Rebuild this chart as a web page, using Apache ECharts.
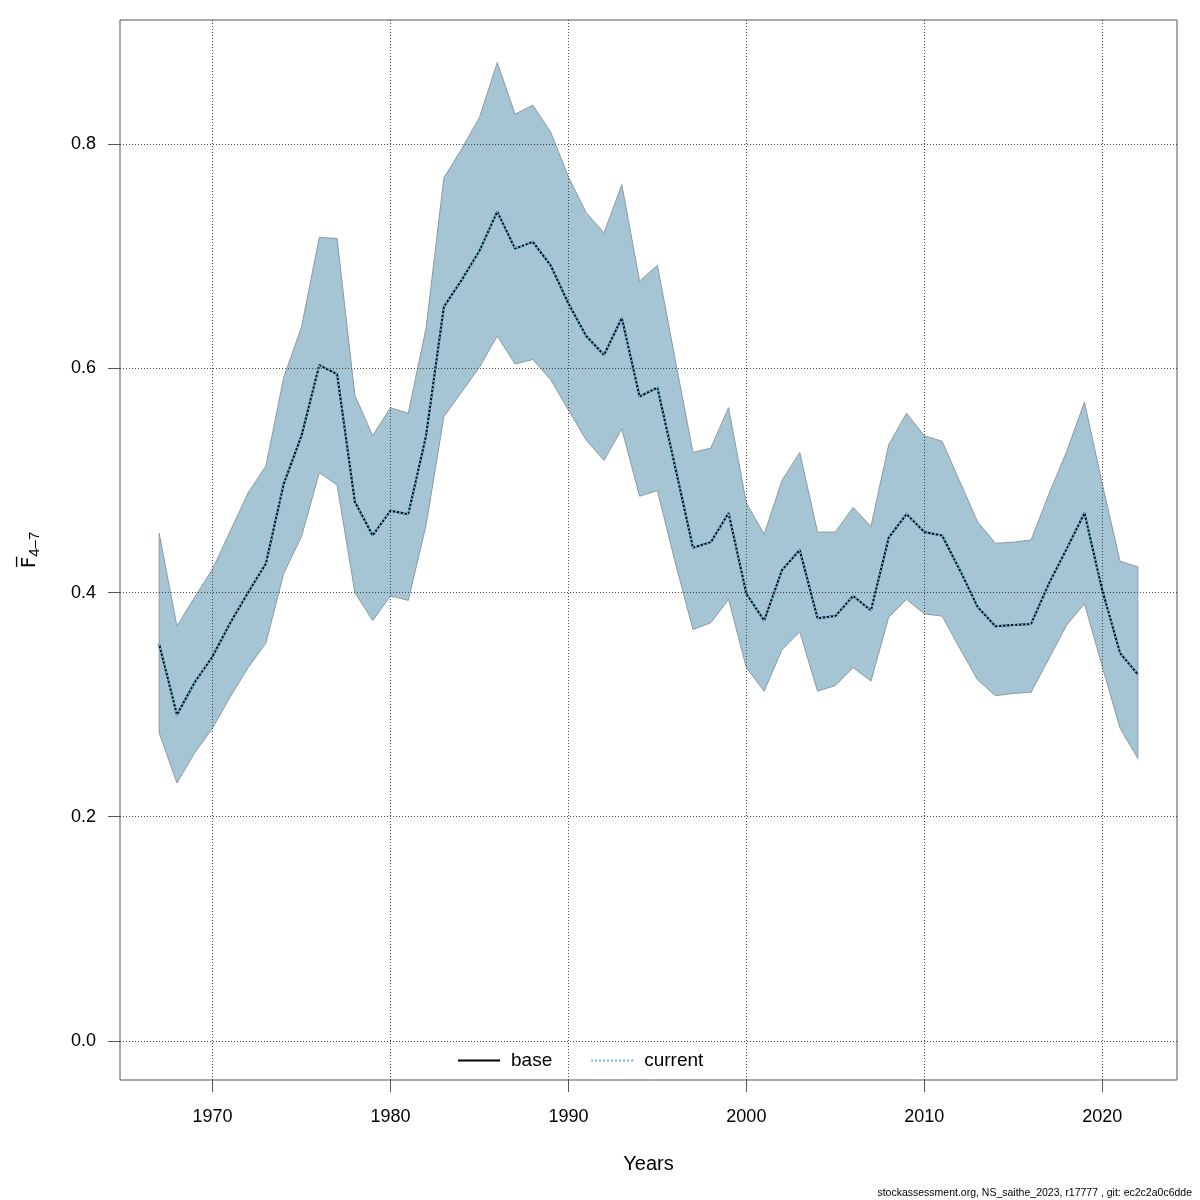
<!DOCTYPE html>
<html>
<head>
<meta charset="utf-8">
<title>F bar 4-7</title>
<script src="https://cdn.jsdelivr.net/npm/echarts@6/dist/echarts.min.js"></script>
<style>
  html, body { margin: 0; padding: 0; background: #fff; }
  #main { width: 1200px; height: 1200px; }
</style>
</head>
<body>
<div id="main"></div>
<script type="text/javascript">
    // data
    var years = [1967, 1968, 1969, 1970, 1971, 1972, 1973, 1974, 1975, 1976,
                 1977, 1978, 1979, 1980, 1981, 1982, 1983, 1984, 1985, 1986,
                 1987, 1988, 1989, 1990, 1991, 1992, 1993, 1994, 1995, 1996,
                 1997, 1998, 1999, 2000, 2001, 2002, 2003, 2004, 2005, 2006,
                 2007, 2008, 2009, 2010, 2011, 2012, 2013, 2014, 2015, 2016,
                 2017, 2018, 2019, 2020, 2021, 2022];
    var fbar = [0.354, 0.291, 0.320, 0.343, 0.373, 0.400, 0.426, 0.497, 0.540, 0.603,
                0.595, 0.481, 0.451, 0.473, 0.470, 0.540, 0.655, 0.679, 0.705, 0.740,
                0.707, 0.713, 0.692, 0.658, 0.629, 0.612, 0.645, 0.575, 0.583, 0.512,
                0.440, 0.445, 0.471, 0.399, 0.375, 0.420, 0.438, 0.377, 0.379, 0.397,
                0.384, 0.449, 0.470, 0.454, 0.451, 0.420, 0.387, 0.370, 0.371, 0.372,
                0.408, 0.439, 0.471, 0.402, 0.346, 0.327];
    var fbarLow = [0.275, 0.230, 0.257, 0.279, 0.307, 0.333, 0.355, 0.417, 0.450, 0.507,
                   0.496, 0.400, 0.375, 0.397, 0.393, 0.460, 0.557, 0.579, 0.601, 0.629,
                   0.604, 0.608, 0.590, 0.563, 0.536, 0.518, 0.546, 0.486, 0.491, 0.427,
                   0.367, 0.373, 0.394, 0.333, 0.312, 0.349, 0.365, 0.312, 0.317, 0.333,
                   0.321, 0.378, 0.394, 0.381, 0.379, 0.350, 0.322, 0.308, 0.310, 0.311,
                   0.341, 0.371, 0.390, 0.334, 0.279, 0.252];
    var fbarHigh = [0.453, 0.370, 0.396, 0.421, 0.455, 0.489, 0.513, 0.592, 0.637, 0.717,
                    0.716, 0.576, 0.540, 0.565, 0.560, 0.636, 0.770, 0.796, 0.824, 0.873,
                    0.827, 0.835, 0.811, 0.771, 0.739, 0.721, 0.764, 0.678, 0.692, 0.608,
                    0.525, 0.529, 0.565, 0.480, 0.452, 0.500, 0.525, 0.454, 0.454, 0.476,
                    0.459, 0.532, 0.560, 0.540, 0.535, 0.499, 0.463, 0.444, 0.445, 0.447,
                    0.488, 0.526, 0.570, 0.497, 0.428, 0.423];
    var xTicks = [1970, 1980, 1990, 2000, 2010, 2020];
    var yTicks = [0.0, 0.2, 0.4, 0.6, 0.8];

    var font = 'Liberation Sans, Arial, Helvetica, sans-serif';

    function pairs(ys) {
        var out = [];
        for (var i = 0; i < years.length; i++) out.push([years[i], ys[i]]);
        return out;
    }
    var bandData = [];
    for (var i = 0; i < years.length; i++) bandData.push([years[i], fbarLow[i], fbarHigh[i]]);

    var myChart = echarts.init(document.getElementById('main'), null, {renderer: 'canvas'});
    myChart.setOption({
        animation: false,
        grid: {
            left: 120, top: 20, width: 1057, height: 1060,
            show: true, borderColor: '#555', borderWidth: 1, backgroundColor: 'transparent'
        },
        legend: {
            left: 452, top: 1046,
            itemWidth: 42, itemHeight: 14, itemGap: 38,
            itemStyle: {opacity: 0},
            lineStyle: {width: 2},
            textStyle: {fontFamily: font, fontSize: 19, color: '#000', padding: [0, 0, 0, 6]},
            data: ['base', 'current']
        },
        xAxis: {
            type: 'value', min: 1964.8, max: 2024.2,
            name: 'Years', nameLocation: 'middle', nameGap: 74,
            nameTextStyle: {fontFamily: font, fontSize: 20, color: '#000'},
            axisLine: {show: false, onZero: false},
            axisTick: {show: true, inside: false, length: 12, customValues: xTicks,
                       lineStyle: {color: '#555'}},
            axisLabel: {customValues: xTicks, margin: 28, fontFamily: font, fontSize: 18, color: '#000',
                        formatter: function (v) { return String(v); }},
            splitLine: {show: false}
        },
        yAxis: {
            type: 'value', min: -0.035, max: 0.911,
            name: '{f|F\u0305}{s|4\u20137}', nameLocation: 'middle', nameGap: 78,
            nameTextStyle: {
                rich: {
                    f: {fontFamily: 'DejaVu Sans, sans-serif', fontSize: 20, color: '#000'},
                    s: {fontFamily: font, fontSize: 15, color: '#000', padding: [10, 0, 0, 0]}
                }
            },
            axisLine: {show: false, onZero: false},
            axisTick: {show: true, inside: false, length: 12, customValues: yTicks,
                       lineStyle: {color: '#555'}},
            axisLabel: {customValues: yTicks, margin: 24, fontFamily: font, fontSize: 18, color: '#000',
                        formatter: function (v) { return v.toFixed(1); }},
            splitLine: {show: false}
        },
        series: [
            {
                // grid lines
                type: 'line', data: [], silent: true,
                markLine: {
                    silent: true, symbol: 'none', label: {show: false},
                    lineStyle: {color: '#444', width: 1, type: [1, 2]},
                    data: xTicks.map(function (v) { return {xAxis: v}; })
                        .concat(yTicks.map(function (v) { return {yAxis: v}; }))
                }
            },
            {
                // confidence band
                type: 'custom', name: 'band', data: bandData,
                encode: {x: 0, y: [1, 2]},
                renderItem: function (params, api) {
                    if (params.dataIndex !== 0) return null;
                    var pts = [];
                    for (var k = 0; k < bandData.length; k++) pts.push(api.coord([bandData[k][0], bandData[k][2]]));
                    for (var k = bandData.length - 1; k >= 0; k--) pts.push(api.coord([bandData[k][0], bandData[k][1]]));
                    return {
                        type: 'polygon',
                        shape: {points: pts},
                        style: {fill: '#a5c4d4', stroke: '#8a9aa3', lineWidth: 1}
                    };
                },
                z: 2
            },
            {
                name: 'base', type: 'line', data: pairs(fbar),
                symbol: 'none', lineStyle: {color: '#000', width: 2}, itemStyle: {color: '#000'}, z: 3
            },
            {
                name: 'current', type: 'line', data: pairs(fbar),
                symbol: 'none', lineStyle: {color: '#5bbde6', width: 2, type: [2, 2]},
                itemStyle: {color: '#5bbde6'}, z: 4
            }
        ],
        graphic: [
            {
                type: 'text', right: 8, top: 1188,
                style: {text: 'stockassessment.org, NS_saithe_2023, r17777 , git: ec2c2a0c6dde',
                        fontFamily: font, fontSize: 10.5, fill: '#000'}
            }
        ]
    });
</script>
</body>
</html>
